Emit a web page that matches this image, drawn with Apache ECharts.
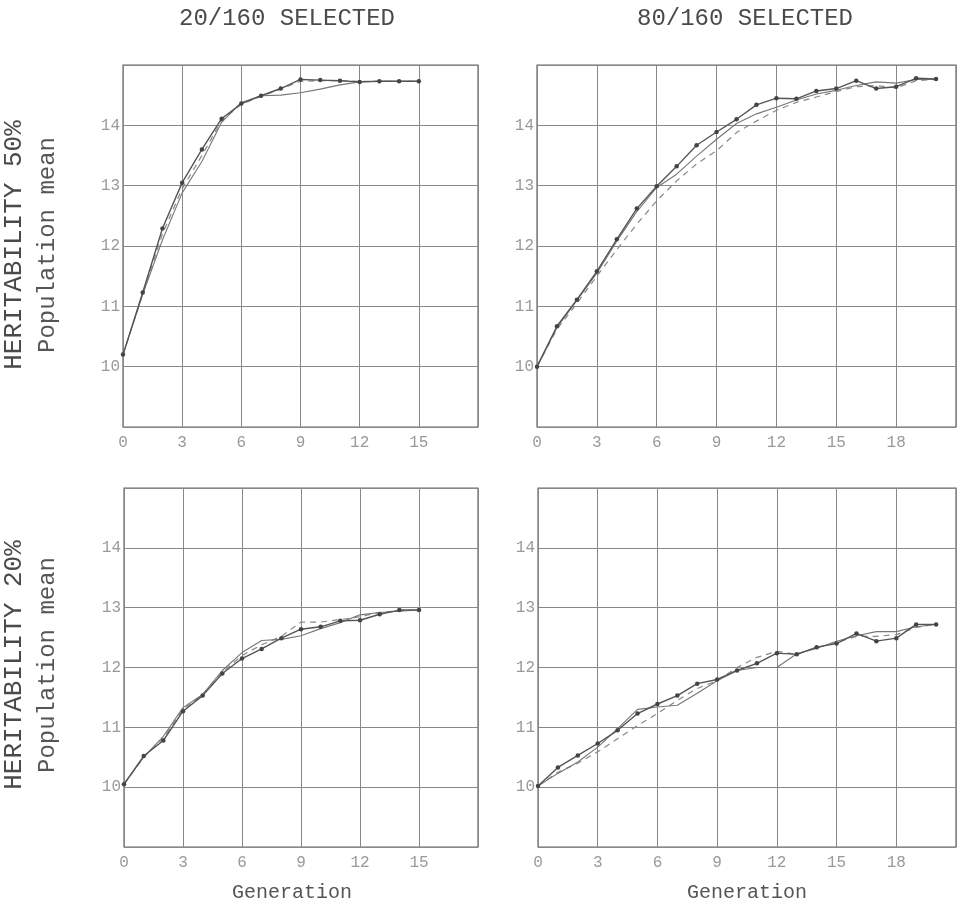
<!DOCTYPE html>
<html>
<head>
<meta charset="utf-8">
<script src="https://cdn.jsdelivr.net/npm/echarts@6/dist/echarts.min.js"></script>
<style>html,body{margin:0;padding:0;background:#fff}#c{width:960px;height:908px}</style>
</head>
<body>
<div id="c"></div>
<script>
// ---- data ----
const genLeft = [0,1,2,3,4,5,6,7,8,9,10,11,12,13,14,15];
const genRight = [0,1,2,3,4,5,6,7,8,9,10,11,12,13,14,15,16,17,18,19,20];
const colTitles = ['20/160 SELECTED', '80/160 SELECTED'];
const rowTitles = ['HERITABILITY 50%', 'HERITABILITY 20%'];
const yTicks = [10, 11, 12, 13, 14];

const tlDot   = [10.2, 11.23, 12.29, 13.05, 13.6, 14.11, 14.36, 14.49, 14.61, 14.76, 14.75, 14.74, 14.72, 14.73, 14.73, 14.73];
const tlSolid = [10.2, 11.2, 12.1, 12.88, 13.4, 14.05, 14.38, 14.49, 14.5, 14.54, 14.6, 14.67, 14.72, 14.73, 14.73, 14.73];
const tlDash  = [10.2, 11.2, 12.2, 12.95, 13.5, 14.08, 14.35, 14.48, 14.6, 14.73, 14.74, 14.74, 14.73, 14.73, 14.73, 14.73];

const trDot   = [10.0, 10.67, 11.11, 11.58, 12.11, 12.62, 12.99, 13.32, 13.67, 13.89, 14.1, 14.34, 14.45, 14.44, 14.57, 14.61, 14.74, 14.61, 14.64, 14.78, 14.77];
const trSolid = [10.0, 10.65, 11.1, 11.55, 12.08, 12.57, 12.97, 13.19, 13.49, 13.77, 14.03, 14.19, 14.3, 14.42, 14.52, 14.58, 14.66, 14.72, 14.7, 14.76, 14.76];
const trDash  = [10.0, 10.62, 11.05, 11.5, 11.94, 12.36, 12.75, 13.08, 13.36, 13.58, 13.88, 14.07, 14.25, 14.38, 14.47, 14.56, 14.64, 14.66, 14.62, 14.74, 14.76];

const blDot   = [10.05, 10.52, 10.78, 11.27, 11.53, 11.9, 12.15, 12.31, 12.49, 12.64, 12.68, 12.78, 12.79, 12.89, 12.96, 12.96];
const blSolid = [10.05, 10.5, 10.85, 11.33, 11.55, 11.95, 12.25, 12.45, 12.47, 12.53, 12.65, 12.75, 12.88, 12.92, 12.94, 12.96];
const blDash  = [10.05, 10.5, 10.82, 11.3, 11.55, 11.92, 12.2, 12.38, 12.52, 12.76, 12.76, 12.8, 12.85, 12.92, 12.95, 12.96];

const brDot   = [10.02, 10.33, 10.53, 10.73, 10.95, 11.23, 11.39, 11.53, 11.73, 11.8, 11.95, 12.07, 12.24, 12.22, 12.34, 12.4, 12.57, 12.44, 12.49, 12.72, 12.72];
const brSolid = [10.02, 10.23, 10.42, 10.67, 10.98, 11.3, 11.34, 11.37, 11.57, 11.78, 11.95, 12.0, 12.0, 12.23, 12.32, 12.44, 12.53, 12.6, 12.6, 12.68, 12.72];
const brDash  = [10.02, 10.25, 10.4, 10.59, 10.81, 11.03, 11.23, 11.45, 11.65, 11.78, 12.0, 12.17, 12.27, 12.22, 12.33, 12.42, 12.52, 12.52, 12.55, 12.67, 12.72];

// ---- layout ----
const FONT = '"Liberation Mono", "DejaVu Sans Mono", monospace';
const panels = [
  {grid:{left:123, top:65, width:355, height:362}, xmax:18, gens:genLeft,  dot:tlDot, solid:tlSolid, dash:tlDash},
  {grid:{left:537, top:65, width:419, height:362}, xmax:21, gens:genRight, dot:trDot, solid:trSolid, dash:trDash},
  {grid:{left:124, top:488, width:354, height:359}, xmax:18, gens:genLeft,  dot:blDot, solid:blSolid, dash:blDash},
  {grid:{left:538, top:488, width:418, height:359}, xmax:21, gens:genRight, dot:brDot, solid:brSolid, dash:brDash}
];

const zip = (g, v) => g.map((x, i) => [x, v[i]]);

const grids = [], xAxes = [], yAxes = [], series = [];
panels.forEach((p, i) => {
  grids.push(Object.assign({show:true, borderColor:'#666', borderWidth:1.2, backgroundColor:'transparent'}, p.grid));
  xAxes.push({
    type:'value', gridIndex:i, min:0, max:p.xmax, interval:3,
    axisLine:{show:false}, axisTick:{show:false},
    splitLine:{show:true, lineStyle:{color:'#888', width:1}},
    axisLabel:{color:'#999', fontFamily:FONT, fontSize:16, margin:8,
      formatter: v => (v === p.xmax ? '' : String(v))}
  });
  yAxes.push({
    type:'value', gridIndex:i, min:9, max:15, interval:1,
    axisLine:{show:false}, axisTick:{show:false},
    splitLine:{show:true, lineStyle:{color:'#888', width:1}},
    axisLabel:{color:'#999', fontFamily:FONT, fontSize:16, margin:3,
      formatter: v => (yTicks.indexOf(v) >= 0 ? String(v) : '')}
  });
  series.push({
    type:'line', xAxisIndex:i, yAxisIndex:i, data:zip(p.gens, p.dash),
    symbol:'none', lineStyle:{color:'#888', width:1.2, type:[6,5]}, z:2
  });
  series.push({
    type:'line', xAxisIndex:i, yAxisIndex:i, data:zip(p.gens, p.solid),
    symbol:'none', lineStyle:{color:'#777', width:1.1}, z:3
  });
  series.push({
    type:'line', xAxisIndex:i, yAxisIndex:i, data:zip(p.gens, p.dot),
    symbol:'circle', symbolSize:4.5, itemStyle:{color:'#444'},
    lineStyle:{color:'#555', width:1.4}, z:4
  });
});

const txt = (x, y, s, size, color, rot) => ({
  type:'text', x:x, y:y, rotation: rot || 0,
  style:{text:s, font: size + 'px ' + FONT, fill:color, textAlign:'center', textVerticalAlign:'middle'}
});

const graphic = [
  txt(287, 19, colTitles[0], 24, '#4a4a4a'),
  txt(745, 19, colTitles[1], 24, '#4a4a4a'),
  txt(14, 245, rowTitles[0], 26, '#4a4a4a', Math.PI/2),
  txt(14, 665, rowTitles[1], 26, '#4a4a4a', Math.PI/2),
  txt(48, 245, 'Population mean', 24, '#555', Math.PI/2),
  txt(48, 665, 'Population mean', 24, '#555', Math.PI/2),
  txt(292, 893, 'Generation', 20, '#555'),
  txt(747, 893, 'Generation', 20, '#555')
];

const chart = echarts.init(document.getElementById('c'), null, {renderer:'canvas'});
chart.setOption({
  animation:false,
  backgroundColor:'#fff',
  grid:grids, xAxis:xAxes, yAxis:yAxes, series:series, graphic:graphic
});
</script>
</body>
</html>
